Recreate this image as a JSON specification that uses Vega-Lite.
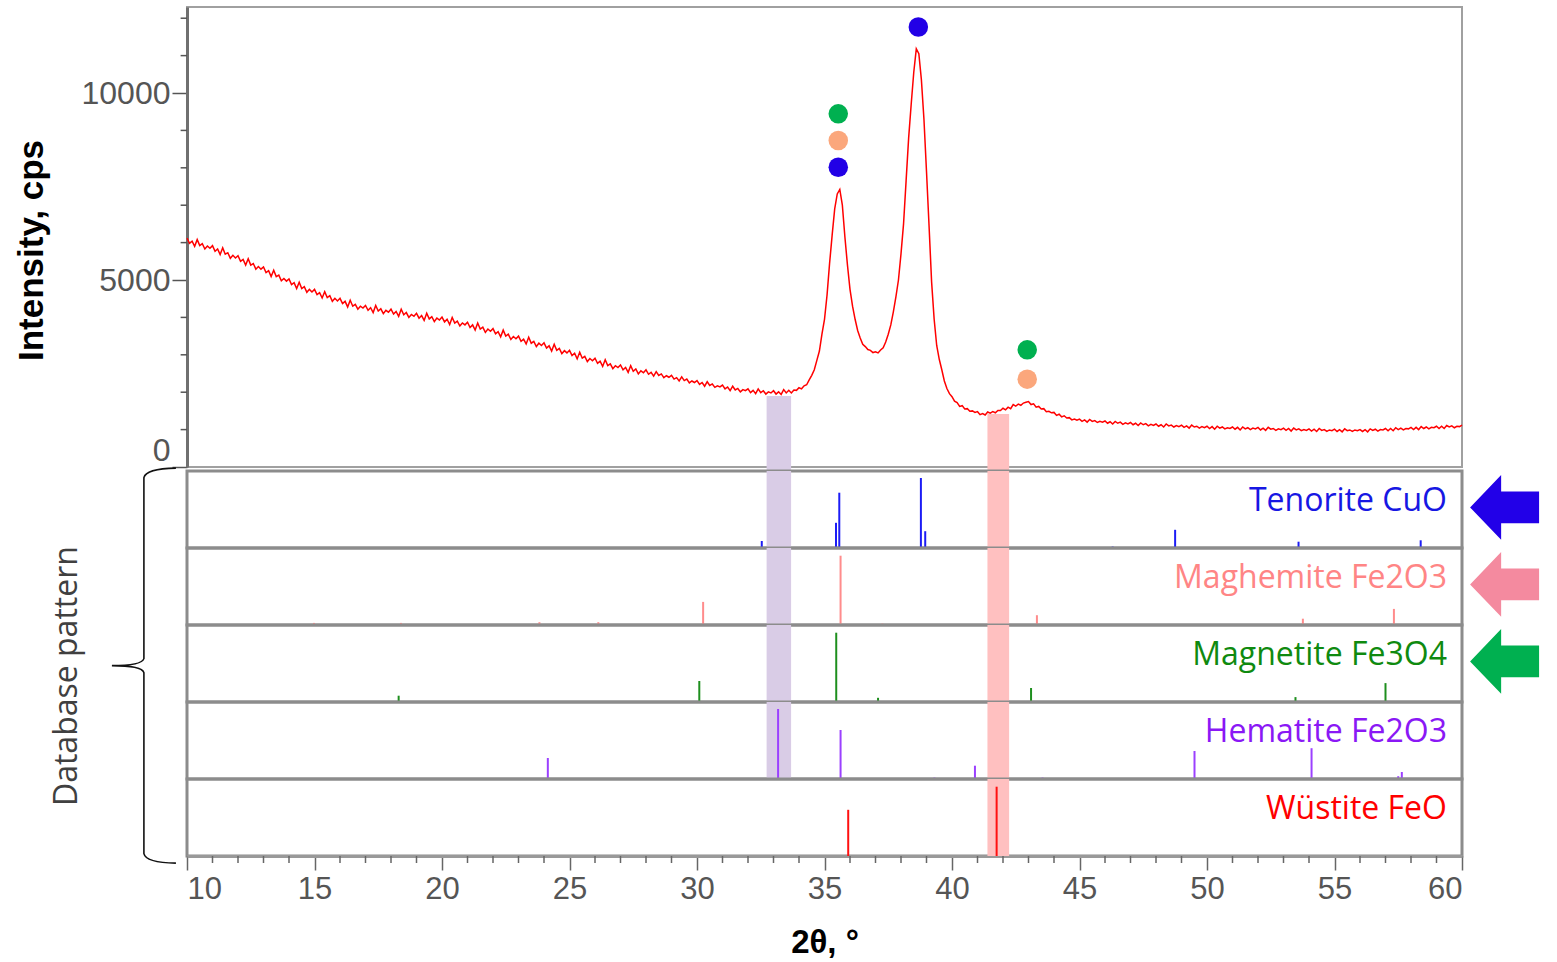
{
"$schema": "https://vega.github.io/schema/vega-lite/v6.json",
"padding": {"left": 13, "top": 6, "right": 5, "bottom": 2},
"spacing": 0,
"bounds": "flush",
"config": {"axis": {"grid": false}, "font": "Liberation Sans"},
"datasets": {
"xrd": [
{"t":10.0,"i":6120},{"t":10.1,"i":5980},{"t":10.2,"i":6040},{"t":10.3,"i":5900},{"t":10.4,"i":6080},{"t":10.5,"i":5920},{"t":10.6,"i":5970},{"t":10.7,"i":5830},{"t":10.8,"i":5910},{"t":10.9,"i":5850},
{"t":11.0,"i":5920},{"t":11.1,"i":5770},{"t":11.2,"i":5830},{"t":11.3,"i":5680},{"t":11.4,"i":5860},{"t":11.5,"i":5690},{"t":11.6,"i":5730},{"t":11.7,"i":5580},{"t":11.8,"i":5660},{"t":11.9,"i":5590},
{"t":12.0,"i":5650},{"t":12.1,"i":5500},{"t":12.2,"i":5550},{"t":12.3,"i":5400},{"t":12.4,"i":5570},{"t":12.5,"i":5400},{"t":12.6,"i":5440},{"t":12.7,"i":5290},{"t":12.8,"i":5360},{"t":12.9,"i":5290},
{"t":13.0,"i":5350},{"t":13.1,"i":5200},{"t":13.2,"i":5250},{"t":13.3,"i":5090},{"t":13.4,"i":5260},{"t":13.5,"i":5090},{"t":13.6,"i":5130},{"t":13.7,"i":4980},{"t":13.8,"i":5040},{"t":13.9,"i":4970},
{"t":14.0,"i":5030},{"t":14.1,"i":4880},{"t":14.2,"i":4930},{"t":14.3,"i":4770},{"t":14.4,"i":4940},{"t":14.5,"i":4770},{"t":14.6,"i":4820},{"t":14.7,"i":4670},{"t":14.8,"i":4750},{"t":14.9,"i":4680},
{"t":15.0,"i":4750},{"t":15.1,"i":4610},{"t":15.2,"i":4660},{"t":15.3,"i":4520},{"t":15.4,"i":4690},{"t":15.5,"i":4530},{"t":15.6,"i":4580},{"t":15.7,"i":4430},{"t":15.8,"i":4510},{"t":15.9,"i":4440},
{"t":16.0,"i":4510},{"t":16.1,"i":4370},{"t":16.2,"i":4430},{"t":16.3,"i":4280},{"t":16.4,"i":4460},{"t":16.5,"i":4300},{"t":16.6,"i":4350},{"t":16.7,"i":4220},{"t":16.8,"i":4300},{"t":16.9,"i":4250},
{"t":17.0,"i":4320},{"t":17.1,"i":4190},{"t":17.2,"i":4260},{"t":17.3,"i":4130},{"t":17.4,"i":4320},{"t":17.5,"i":4170},{"t":17.6,"i":4230},{"t":17.7,"i":4100},{"t":17.8,"i":4190},{"t":17.9,"i":4140},
{"t":18.0,"i":4220},{"t":18.1,"i":4090},{"t":18.2,"i":4160},{"t":18.3,"i":4030},{"t":18.4,"i":4220},{"t":18.5,"i":4070},{"t":18.6,"i":4130},{"t":18.7,"i":4000},{"t":18.8,"i":4080},{"t":18.9,"i":4030},
{"t":19.0,"i":4110},{"t":19.1,"i":3980},{"t":19.2,"i":4050},{"t":19.3,"i":3920},{"t":19.4,"i":4110},{"t":19.5,"i":3960},{"t":19.6,"i":4020},{"t":19.7,"i":3890},{"t":19.8,"i":3980},{"t":19.9,"i":3930},
{"t":20.0,"i":4010},{"t":20.1,"i":3880},{"t":20.2,"i":3950},{"t":20.3,"i":3810},{"t":20.4,"i":4000},{"t":20.5,"i":3850},{"t":20.6,"i":3900},{"t":20.7,"i":3770},{"t":20.8,"i":3850},{"t":20.9,"i":3800},
{"t":21.0,"i":3870},{"t":21.1,"i":3730},{"t":21.2,"i":3800},{"t":21.3,"i":3660},{"t":21.4,"i":3850},{"t":21.5,"i":3690},{"t":21.6,"i":3740},{"t":21.7,"i":3600},{"t":21.8,"i":3690},{"t":21.9,"i":3630},
{"t":22.0,"i":3700},{"t":22.1,"i":3560},{"t":22.2,"i":3620},{"t":22.3,"i":3480},{"t":22.4,"i":3660},{"t":22.5,"i":3500},{"t":22.6,"i":3550},{"t":22.7,"i":3410},{"t":22.8,"i":3490},{"t":22.9,"i":3430},
{"t":23.0,"i":3500},{"t":23.1,"i":3360},{"t":23.2,"i":3420},{"t":23.3,"i":3290},{"t":23.4,"i":3470},{"t":23.5,"i":3310},{"t":23.6,"i":3360},{"t":23.7,"i":3220},{"t":23.8,"i":3310},{"t":23.9,"i":3250},
{"t":24.0,"i":3320},{"t":24.1,"i":3180},{"t":24.2,"i":3240},{"t":24.3,"i":3100},{"t":24.4,"i":3280},{"t":24.5,"i":3120},{"t":24.6,"i":3170},{"t":24.7,"i":3030},{"t":24.8,"i":3110},{"t":24.9,"i":3050},
{"t":25.0,"i":3120},{"t":25.1,"i":2980},{"t":25.2,"i":3040},{"t":25.3,"i":2890},{"t":25.4,"i":3070},{"t":25.5,"i":2910},{"t":25.6,"i":2960},{"t":25.7,"i":2820},{"t":25.8,"i":2900},{"t":25.9,"i":2840},
{"t":26.0,"i":2910},{"t":26.1,"i":2770},{"t":26.2,"i":2830},{"t":26.3,"i":2690},{"t":26.4,"i":2870},{"t":26.5,"i":2710},{"t":26.6,"i":2760},{"t":26.7,"i":2630},{"t":26.8,"i":2710},{"t":26.9,"i":2660},
{"t":27.0,"i":2730},{"t":27.1,"i":2600},{"t":27.2,"i":2660},{"t":27.3,"i":2530},{"t":27.4,"i":2710},{"t":27.5,"i":2560},{"t":27.6,"i":2620},{"t":27.7,"i":2490},{"t":27.8,"i":2570},{"t":27.9,"i":2520},
{"t":28.0,"i":2600},{"t":28.1,"i":2480},{"t":28.2,"i":2530},{"t":28.3,"i":2430},{"t":28.4,"i":2550},{"t":28.5,"i":2450},{"t":28.6,"i":2490},{"t":28.7,"i":2390},{"t":28.8,"i":2440},{"t":28.9,"i":2400},
{"t":29.0,"i":2450},{"t":29.1,"i":2350},{"t":29.2,"i":2390},{"t":29.3,"i":2300},{"t":29.4,"i":2410},{"t":29.5,"i":2310},{"t":29.6,"i":2350},{"t":29.7,"i":2250},{"t":29.8,"i":2300},{"t":29.9,"i":2260},
{"t":30.0,"i":2310},{"t":30.1,"i":2210},{"t":30.2,"i":2260},{"t":30.3,"i":2160},{"t":30.4,"i":2280},{"t":30.5,"i":2180},{"t":30.6,"i":2220},{"t":30.7,"i":2130},{"t":30.8,"i":2170},{"t":30.9,"i":2140},
{"t":31.0,"i":2190},{"t":31.1,"i":2090},{"t":31.2,"i":2140},{"t":31.3,"i":2040},{"t":31.4,"i":2160},{"t":31.5,"i":2060},{"t":31.6,"i":2100},{"t":31.7,"i":2010},{"t":31.8,"i":2070},{"t":31.9,"i":2040},
{"t":32.0,"i":2090},{"t":32.1,"i":1990},{"t":32.2,"i":2050},{"t":32.3,"i":1960},{"t":32.4,"i":2090},{"t":32.5,"i":1990},{"t":32.6,"i":2040},{"t":32.7,"i":1950},{"t":32.8,"i":2010},{"t":32.9,"i":1980},
{"t":33.0,"i":2040},{"t":33.1,"i":1950},{"t":33.2,"i":2010},{"t":33.3,"i":1940},{"t":33.4,"i":2070},{"t":33.5,"i":1980},{"t":33.6,"i":2050},{"t":33.7,"i":1980},{"t":33.8,"i":2060},{"t":33.9,"i":2050},
{"t":34.0,"i":2120},{"t":34.1,"i":2090},{"t":34.2,"i":2170},{"t":34.3,"i":2200},{"t":34.4,"i":2330},{"t":34.5,"i":2450},{"t":34.6,"i":2600},{"t":34.7,"i":2850},{"t":34.8,"i":3100},{"t":34.9,"i":3550},
{"t":35.0,"i":3950},{"t":35.1,"i":4600},{"t":35.2,"i":5450},{"t":35.3,"i":6200},{"t":35.4,"i":6900},{"t":35.5,"i":7300},{"t":35.6,"i":7420},{"t":35.7,"i":7000},{"t":35.8,"i":6150},{"t":35.9,"i":5400},
{"t":36.0,"i":4750},{"t":36.1,"i":4300},{"t":36.2,"i":3950},{"t":36.3,"i":3650},{"t":36.4,"i":3450},{"t":36.5,"i":3280},{"t":36.6,"i":3220},{"t":36.7,"i":3140},{"t":36.8,"i":3120},{"t":36.9,"i":3060},
{"t":37.0,"i":3080},{"t":37.1,"i":3050},{"t":37.2,"i":3130},{"t":37.3,"i":3190},{"t":37.4,"i":3340},{"t":37.5,"i":3550},{"t":37.6,"i":3800},{"t":37.7,"i":4150},{"t":37.8,"i":4550},{"t":37.9,"i":5000},
{"t":38.0,"i":5700},{"t":38.1,"i":6500},{"t":38.2,"i":7650},{"t":38.3,"i":8800},{"t":38.4,"i":9700},{"t":38.5,"i":10550},{"t":38.6,"i":11180},{"t":38.7,"i":11050},{"t":38.8,"i":10350},{"t":38.9,"i":9300},
{"t":39.0,"i":7900},{"t":39.1,"i":6450},{"t":39.2,"i":4950},{"t":39.3,"i":3950},{"t":39.4,"i":3250},{"t":39.5,"i":2880},{"t":39.6,"i":2600},{"t":39.7,"i":2300},{"t":39.8,"i":2100},{"t":39.9,"i":1960},
{"t":40.0,"i":1880},{"t":40.1,"i":1760},{"t":40.2,"i":1720},{"t":40.3,"i":1620},{"t":40.4,"i":1640},{"t":40.5,"i":1550},{"t":40.6,"i":1560},{"t":40.7,"i":1490},{"t":40.8,"i":1500},{"t":40.9,"i":1460},
{"t":41.0,"i":1480},{"t":41.1,"i":1400},{"t":41.2,"i":1430},{"t":41.3,"i":1390},{"t":41.4,"i":1470},{"t":41.5,"i":1440},{"t":41.6,"i":1480},{"t":41.7,"i":1450},{"t":41.8,"i":1510},{"t":41.9,"i":1510},
{"t":42.0,"i":1570},{"t":42.1,"i":1530},{"t":42.2,"i":1600},{"t":42.3,"i":1560},{"t":42.4,"i":1670},{"t":42.5,"i":1630},{"t":42.6,"i":1680},{"t":42.7,"i":1650},{"t":42.8,"i":1710},{"t":42.9,"i":1730},
{"t":43.0,"i":1750},{"t":43.1,"i":1670},{"t":43.2,"i":1690},{"t":43.3,"i":1600},{"t":43.4,"i":1620},{"t":43.5,"i":1550},{"t":43.6,"i":1560},{"t":43.7,"i":1480},{"t":43.8,"i":1490},{"t":43.9,"i":1450},
{"t":44.0,"i":1460},{"t":44.1,"i":1380},{"t":44.2,"i":1410},{"t":44.3,"i":1340},{"t":44.4,"i":1370},{"t":44.5,"i":1310},{"t":44.6,"i":1320},{"t":44.7,"i":1260},{"t":44.8,"i":1280},{"t":44.9,"i":1250},
{"t":45.0,"i":1280},{"t":45.1,"i":1220},{"t":45.2,"i":1260},{"t":45.3,"i":1200},{"t":45.4,"i":1270},{"t":45.5,"i":1220},{"t":45.6,"i":1240},{"t":45.7,"i":1190},{"t":45.8,"i":1220},{"t":45.9,"i":1200},
{"t":46.0,"i":1230},{"t":46.1,"i":1170},{"t":46.2,"i":1210},{"t":46.3,"i":1150},{"t":46.4,"i":1220},{"t":46.5,"i":1170},{"t":46.6,"i":1200},{"t":46.7,"i":1140},{"t":46.8,"i":1180},{"t":46.9,"i":1150},
{"t":47.0,"i":1190},{"t":47.1,"i":1130},{"t":47.2,"i":1170},{"t":47.3,"i":1110},{"t":47.4,"i":1180},{"t":47.5,"i":1130},{"t":47.6,"i":1160},{"t":47.7,"i":1100},{"t":47.8,"i":1140},{"t":47.9,"i":1110},
{"t":48.0,"i":1150},{"t":48.1,"i":1090},{"t":48.2,"i":1130},{"t":48.3,"i":1070},{"t":48.4,"i":1150},{"t":48.5,"i":1100},{"t":48.6,"i":1120},{"t":48.7,"i":1070},{"t":48.8,"i":1110},{"t":48.9,"i":1080},
{"t":49.0,"i":1120},{"t":49.1,"i":1060},{"t":49.2,"i":1100},{"t":49.3,"i":1040},{"t":49.4,"i":1120},{"t":49.5,"i":1070},{"t":49.6,"i":1090},{"t":49.7,"i":1040},{"t":49.8,"i":1080},{"t":49.9,"i":1050},
{"t":50.0,"i":1090},{"t":50.1,"i":1030},{"t":50.2,"i":1080},{"t":50.3,"i":1010},{"t":50.4,"i":1090},{"t":50.5,"i":1040},{"t":50.6,"i":1070},{"t":50.7,"i":1020},{"t":50.8,"i":1050},{"t":50.9,"i":1030},
{"t":51.0,"i":1070},{"t":51.1,"i":1010},{"t":51.2,"i":1060},{"t":51.3,"i":990},{"t":51.4,"i":1070},{"t":51.5,"i":1020},{"t":51.6,"i":1050},{"t":51.7,"i":1000},{"t":51.8,"i":1040},{"t":51.9,"i":1020},
{"t":52.0,"i":1060},{"t":52.1,"i":990},{"t":52.2,"i":1040},{"t":52.3,"i":980},{"t":52.4,"i":1060},{"t":52.5,"i":1010},{"t":52.6,"i":1030},{"t":52.7,"i":980},{"t":52.8,"i":1020},{"t":52.9,"i":1000},
{"t":53.0,"i":1040},{"t":53.1,"i":980},{"t":53.2,"i":1030},{"t":53.3,"i":960},{"t":53.4,"i":1040},{"t":53.5,"i":990},{"t":53.6,"i":1020},{"t":53.7,"i":970},{"t":53.8,"i":1000},{"t":53.9,"i":980},
{"t":54.0,"i":1020},{"t":54.1,"i":960},{"t":54.2,"i":1010},{"t":54.3,"i":950},{"t":54.4,"i":1030},{"t":54.5,"i":980},{"t":54.6,"i":1000},{"t":54.7,"i":950},{"t":54.8,"i":990},{"t":54.9,"i":970},
{"t":55.0,"i":1010},{"t":55.1,"i":950},{"t":55.2,"i":1000},{"t":55.3,"i":940},{"t":55.4,"i":1020},{"t":55.5,"i":970},{"t":55.6,"i":990},{"t":55.7,"i":950},{"t":55.8,"i":990},{"t":55.9,"i":970},
{"t":56.0,"i":1000},{"t":56.1,"i":950},{"t":56.2,"i":1000},{"t":56.3,"i":940},{"t":56.4,"i":1020},{"t":56.5,"i":980},{"t":56.6,"i":1010},{"t":56.7,"i":960},{"t":56.8,"i":1000},{"t":56.9,"i":990},
{"t":57.0,"i":1030},{"t":57.1,"i":970},{"t":57.2,"i":1030},{"t":57.3,"i":970},{"t":57.4,"i":1050},{"t":57.5,"i":1000},{"t":57.6,"i":1040},{"t":57.7,"i":990},{"t":57.8,"i":1030},{"t":57.9,"i":1020},
{"t":58.0,"i":1060},{"t":58.1,"i":1000},{"t":58.2,"i":1060},{"t":58.3,"i":1000},{"t":58.4,"i":1080},{"t":58.5,"i":1030},{"t":58.6,"i":1070},{"t":58.7,"i":1020},{"t":58.8,"i":1060},{"t":58.9,"i":1050},
{"t":59.0,"i":1090},{"t":59.1,"i":1030},{"t":59.2,"i":1090},{"t":59.3,"i":1030},{"t":59.4,"i":1110},{"t":59.5,"i":1070},{"t":59.6,"i":1100},{"t":59.7,"i":1050},{"t":59.8,"i":1090},{"t":59.9,"i":1080},
{"t":60.0,"i":1120}
],
"markers": [
{"phase":"Magnetite Fe3O4","t":35.54,"i":9445},
{"phase":"Maghemite Fe2O3","t":35.54,"i":8730},
{"phase":"Tenorite CuO","t":35.54,"i":8015},
{"phase":"Tenorite CuO","t":38.68,"i":11765},
{"phase":"Magnetite Fe3O4","t":42.95,"i":3133},
{"phase":"Maghemite Fe2O3","t":42.95,"i":2349}
],
"sticks": [
{"phase":"Tenorite CuO","t":32.54,"rel":10},{"phase":"Tenorite CuO","t":35.45,"rel":36},{"phase":"Tenorite CuO","t":35.58,"rel":79},{"phase":"Tenorite CuO","t":38.78,"rel":100},{"phase":"Tenorite CuO","t":38.95,"rel":24},{"phase":"Tenorite CuO","t":46.3,"rel":2},{"phase":"Tenorite CuO","t":48.75,"rel":26},{"phase":"Tenorite CuO","t":53.59,"rel":9},{"phase":"Tenorite CuO","t":58.38,"rel":11},
{"phase":"Maghemite Fe2O3","t":14.98,"rel":3},{"phase":"Maghemite Fe2O3","t":18.39,"rel":3},{"phase":"Maghemite Fe2O3","t":23.82,"rel":4},{"phase":"Maghemite Fe2O3","t":26.13,"rel":4},{"phase":"Maghemite Fe2O3","t":30.24,"rel":33},{"phase":"Maghemite Fe2O3","t":35.63,"rel":99},{"phase":"Maghemite Fe2O3","t":37.27,"rel":2},{"phase":"Maghemite Fe2O3","t":43.33,"rel":14},{"phase":"Maghemite Fe2O3","t":53.76,"rel":9},{"phase":"Maghemite Fe2O3","t":57.33,"rel":23},
{"phase":"Magnetite Fe3O4","t":18.30,"rel":9},{"phase":"Magnetite Fe3O4","t":30.09,"rel":30},{"phase":"Magnetite Fe3O4","t":35.46,"rel":99},{"phase":"Magnetite Fe3O4","t":37.1,"rel":6},{"phase":"Magnetite Fe3O4","t":43.1,"rel":20},{"phase":"Magnetite Fe3O4","t":53.47,"rel":7},{"phase":"Magnetite Fe3O4","t":57.0,"rel":27},
{"phase":"Hematite Fe2O3","t":24.15,"rel":30},{"phase":"Hematite Fe2O3","t":33.18,"rel":100},{"phase":"Hematite Fe2O3","t":35.63,"rel":70},{"phase":"Hematite Fe2O3","t":39.31,"rel":2},{"phase":"Hematite Fe2O3","t":40.9,"rel":19},{"phase":"Hematite Fe2O3","t":43.55,"rel":2},{"phase":"Hematite Fe2O3","t":49.51,"rel":40},{"phase":"Hematite Fe2O3","t":54.1,"rel":44},{"phase":"Hematite Fe2O3","t":57.5,"rel":4},{"phase":"Hematite Fe2O3","t":57.64,"rel":10},
{"phase":"Wüstite FeO","t":35.93,"rel":66},{"phase":"Wüstite FeO","t":41.75,"rel":99}
],
"bands": [
{"band":"Hematite Fe2O3","lo":32.73,"hi":33.69,"imax":1900},
{"band":"Wüstite FeO","lo":41.39,"hi":42.24,"imax":1420}
],
"phases": [
{"phase":"Tenorite CuO"},{"phase":"Maghemite Fe2O3"},{"phase":"Magnetite Fe3O4"},{"phase":"Hematite Fe2O3"},{"phase":"Wüstite FeO"}
]
},
"vconcat": [
{
"width": 1275, "height": 460,
"view": {"stroke": "#a0a0a0", "strokeWidth": 2},
"layer": [
{"data": {"name": "bands"}, "mark": {"type": "rect"},
 "encoding": {
  "x": {"field": "lo", "type": "quantitative", "scale": {"domain": [10, 60], "nice": false, "zero": false}, "axis": null},
  "x2": {"field": "hi"},
  "y": {"field": "imax", "type": "quantitative", "scale": {"domain": [0, 12300], "nice": false},
   "axis": {"title": "Intensity, cps", "values": [0, 5000, 10000], "format": "d", "tickSize": 15,
    "labelFont": "Liberation Sans", "labelFontSize": 32, "labelColor": "#555555", "labelPadding": 2, "labelFlush": true, "labelOverlap": false,
    "tickColor": "#555555", "tickWidth": 1.5, "domainColor": "#707070", "domainWidth": 3,
    "titleFont": "Liberation Sans", "titleFontSize": 35, "titleFontWeight": "bold", "titleColor": "#000000", "titlePadding": 32, "titleY": 243}},
  "y2": {"datum": 0, "type": "quantitative"},
  "color": {"field": "band", "type": "nominal", "scale": {"domain": ["Hematite Fe2O3", "Wüstite FeO"], "range": ["#D9CCE6", "#FFC0C0"]}, "legend": null}}},
{"data": {"values": [{"v":1000},{"v":2000},{"v":3000},{"v":4000},{"v":6000},{"v":7000},{"v":8000},{"v":9000},{"v":11000},{"v":12000}]},
 "mark": {"type": "rule", "color": "#555555", "strokeWidth": 1.5},
 "encoding": {
  "x": {"datum": 10, "type": "quantitative", "scale": {"domain": [10, 60], "nice": false, "zero": false}, "axis": null},
  "x2": {"datum": 9.75, "type": "quantitative"},
  "y": {"field": "v", "type": "quantitative", "scale": {"domain": [0, 12300], "nice": false},
   "axis": {"title": "Intensity, cps", "values": [0, 5000, 10000], "format": "d", "tickSize": 15,
    "labelFont": "Liberation Sans", "labelFontSize": 32, "labelColor": "#555555", "labelPadding": 2, "labelFlush": true, "labelOverlap": false,
    "tickColor": "#555555", "tickWidth": 1.5, "domainColor": "#707070", "domainWidth": 3,
    "titleFont": "Liberation Sans", "titleFontSize": 35, "titleFontWeight": "bold", "titleColor": "#000000", "titlePadding": 32, "titleY": 243}}}},
{"data": {"name": "xrd"}, "mark": {"type": "line", "color": "#FF0000", "strokeWidth": 1.5},
 "encoding": {
  "x": {"field": "t", "type": "quantitative", "scale": {"domain": [10, 60], "nice": false, "zero": false}, "axis": null},
  "y": {"field": "i", "type": "quantitative", "scale": {"domain": [0, 12300], "nice": false},
   "axis": {"title": "Intensity, cps", "values": [0, 5000, 10000], "format": "d", "tickSize": 15,
    "labelFont": "Liberation Sans", "labelFontSize": 32, "labelColor": "#555555", "labelPadding": 2, "labelFlush": true, "labelOverlap": false,
    "tickColor": "#555555", "tickWidth": 1.5, "domainColor": "#707070", "domainWidth": 3,
    "titleFont": "Liberation Sans", "titleFontSize": 35, "titleFontWeight": "bold", "titleColor": "#000000", "titlePadding": 32, "titleY": 243}}}},
{"data": {"name": "markers"}, "mark": {"type": "point", "filled": true, "shape": "circle", "size": 380, "opacity": 1},
 "encoding": {
  "x": {"field": "t", "type": "quantitative", "scale": {"domain": [10, 60], "nice": false, "zero": false}, "axis": null},
  "y": {"field": "i", "type": "quantitative", "scale": {"domain": [0, 12300], "nice": false},
   "axis": {"title": "Intensity, cps", "values": [0, 5000, 10000], "format": "d", "tickSize": 15,
    "labelFont": "Liberation Sans", "labelFontSize": 32, "labelColor": "#555555", "labelPadding": 2, "labelFlush": true, "labelOverlap": false,
    "tickColor": "#555555", "tickWidth": 1.5, "domainColor": "#707070", "domainWidth": 3,
    "titleFont": "Liberation Sans", "titleFontSize": 35, "titleFontWeight": "bold", "titleColor": "#000000", "titlePadding": 32, "titleY": 243}},
  "color": {"field": "phase", "type": "nominal", "scale": {"domain": ["Tenorite CuO", "Maghemite Fe2O3", "Magnetite Fe3O4"], "range": ["#2200E6", "#FBA77C", "#00B050"]}, "legend": null}}}
],
"resolve": {"scale": {"color": "independent"}}
},
{
"width": 1275, "height": 4,
"view": {"stroke": null},
"data": {"name": "bands"}, "mark": {"type": "rect"},
"encoding": {
 "x": {"field": "lo", "type": "quantitative", "scale": {"domain": [10, 60], "nice": false, "zero": false}, "axis": null},
 "x2": {"field": "hi"},
 "color": {"field": "band", "type": "nominal", "scale": {"domain": ["Hematite Fe2O3", "Wüstite FeO"], "range": ["#D9CCE6", "#FFC0C0"]}, "legend": null}}
},
{
"width": 1275, "height": 77,
"view": {"stroke": "#8c8c8c", "strokeWidth": 3},
"layer": [
{"data": {"name": "bands"}, "mark": {"type": "rect"},
 "encoding": {"x": {"field": "lo", "type": "quantitative", "scale": {"domain": [10, 60], "nice": false, "zero": false}, "axis": null}, "x2": {"field": "hi"},
  "color": {"field": "band", "type": "nominal", "scale": {"domain": ["Hematite Fe2O3", "Wüstite FeO"], "range": ["#D9CCE6", "#FFC0C0"]}, "legend": null}}},
{"data": {"name": "sticks"}, "transform": [{"filter": "datum.phase === 'Tenorite CuO'"}], "mark": {"type": "rule", "color": "#1c1cf5", "strokeWidth": 2},
 "encoding": {"x": {"field": "t", "type": "quantitative", "scale": {"domain": [10, 60], "nice": false, "zero": false}, "axis": null},
  "y": {"field": "rel", "type": "quantitative", "scale": {"domain": [0, 110], "nice": false}, "axis": null}, "y2": {"datum": 0, "type": "quantitative"}}},
{"data": {"name": "phases"}, "transform": [{"filter": "datum.phase === 'Tenorite CuO'"}], "mark": {"type": "text", "align": "right", "baseline": "middle", "font": "Open Sans", "fontSize": 32, "color": "#1717E3"},
 "encoding": {"x": {"datum": 59.41, "type": "quantitative", "scale": {"domain": [10, 60], "nice": false, "zero": false}, "axis": null},
  "y": {"datum": 67, "type": "quantitative", "scale": {"domain": [0, 110], "nice": false}, "axis": null}, "text": {"field": "phase", "type": "nominal"}}},
{"data": {"name": "phases"}, "transform": [{"filter": "datum.phase === 'Tenorite CuO'"}], "mark": {"type": "point", "shape": "M -1 0 L -0.1 -0.94 L -0.1 -0.46 L 1 -0.46 L 1 0.46 L -0.1 0.46 L -0.1 0.94 Z", "size": 4761, "filled": true, "opacity": 1, "color": "#2200E8", "strokeWidth": 0},
 "encoding": {"x": {"datum": 61.67, "type": "quantitative", "scale": {"domain": [10, 60], "nice": false, "zero": false}, "axis": null},
  "y": {"datum": 58, "type": "quantitative", "scale": {"domain": [0, 110], "nice": false}, "axis": null}}}
]
},
{
"width": 1275, "height": 77,
"view": {"stroke": "#8c8c8c", "strokeWidth": 3},
"layer": [
{"data": {"name": "bands"}, "mark": {"type": "rect"},
 "encoding": {"x": {"field": "lo", "type": "quantitative", "scale": {"domain": [10, 60], "nice": false, "zero": false}, "axis": null}, "x2": {"field": "hi"},
  "color": {"field": "band", "type": "nominal", "scale": {"domain": ["Hematite Fe2O3", "Wüstite FeO"], "range": ["#D9CCE6", "#FFC0C0"]}, "legend": null}}},
{"data": {"name": "sticks"}, "transform": [{"filter": "datum.phase === 'Maghemite Fe2O3'"}], "mark": {"type": "rule", "color": "#FF8C8C", "strokeWidth": 2},
 "encoding": {"x": {"field": "t", "type": "quantitative", "scale": {"domain": [10, 60], "nice": false, "zero": false}, "axis": null},
  "y": {"field": "rel", "type": "quantitative", "scale": {"domain": [0, 110], "nice": false}, "axis": null}, "y2": {"datum": 0, "type": "quantitative"}}},
{"data": {"name": "phases"}, "transform": [{"filter": "datum.phase === 'Maghemite Fe2O3'"}], "mark": {"type": "text", "align": "right", "baseline": "middle", "font": "Open Sans", "fontSize": 32, "color": "#FF8585"},
 "encoding": {"x": {"datum": 59.41, "type": "quantitative", "scale": {"domain": [10, 60], "nice": false, "zero": false}, "axis": null},
  "y": {"datum": 67, "type": "quantitative", "scale": {"domain": [0, 110], "nice": false}, "axis": null}, "text": {"field": "phase", "type": "nominal"}}},
{"data": {"name": "phases"}, "transform": [{"filter": "datum.phase === 'Maghemite Fe2O3'"}], "mark": {"type": "point", "shape": "M -1 0 L -0.1 -0.94 L -0.1 -0.46 L 1 -0.46 L 1 0.46 L -0.1 0.46 L -0.1 0.94 Z", "size": 4761, "filled": true, "opacity": 1, "color": "#F48A9F", "strokeWidth": 0},
 "encoding": {"x": {"datum": 61.67, "type": "quantitative", "scale": {"domain": [10, 60], "nice": false, "zero": false}, "axis": null},
  "y": {"datum": 58, "type": "quantitative", "scale": {"domain": [0, 110], "nice": false}, "axis": null}}}
]
},
{
"width": 1275, "height": 77,
"view": {"stroke": "#8c8c8c", "strokeWidth": 3},
"layer": [
{"data": {"name": "bands"}, "mark": {"type": "rect"},
 "encoding": {"x": {"field": "lo", "type": "quantitative", "scale": {"domain": [10, 60], "nice": false, "zero": false}, "axis": null}, "x2": {"field": "hi"},
  "color": {"field": "band", "type": "nominal", "scale": {"domain": ["Hematite Fe2O3", "Wüstite FeO"], "range": ["#D9CCE6", "#FFC0C0"]}, "legend": null}}},
{"data": {"name": "sticks"}, "transform": [{"filter": "datum.phase === 'Magnetite Fe3O4'"}], "mark": {"type": "rule", "color": "#1E8F1E", "strokeWidth": 2},
 "encoding": {"x": {"field": "t", "type": "quantitative", "scale": {"domain": [10, 60], "nice": false, "zero": false}, "axis": null},
  "y": {"field": "rel", "type": "quantitative", "scale": {"domain": [0, 110], "nice": false}, "axis": null}, "y2": {"datum": 0, "type": "quantitative"}}},
{"data": {"name": "phases"}, "transform": [{"filter": "datum.phase === 'Magnetite Fe3O4'"}], "mark": {"type": "text", "align": "right", "baseline": "middle", "font": "Open Sans", "fontSize": 32, "color": "#0F8A0F"},
 "encoding": {"x": {"datum": 59.41, "type": "quantitative", "scale": {"domain": [10, 60], "nice": false, "zero": false}, "axis": null},
  "y": {"datum": 67, "type": "quantitative", "scale": {"domain": [0, 110], "nice": false}, "axis": null}, "text": {"field": "phase", "type": "nominal"}}},
{"data": {"name": "phases"}, "transform": [{"filter": "datum.phase === 'Magnetite Fe3O4'"}], "mark": {"type": "point", "shape": "M -1 0 L -0.1 -0.94 L -0.1 -0.46 L 1 -0.46 L 1 0.46 L -0.1 0.46 L -0.1 0.94 Z", "size": 4761, "filled": true, "opacity": 1, "color": "#00B050", "strokeWidth": 0},
 "encoding": {"x": {"datum": 61.67, "type": "quantitative", "scale": {"domain": [10, 60], "nice": false, "zero": false}, "axis": null},
  "y": {"datum": 58, "type": "quantitative", "scale": {"domain": [0, 110], "nice": false}, "axis": null}}},
{"data": {"values": [{"label": "Database pattern"}]}, "mark": {"type": "point", "shape": "M 0.16 -0.9875 Q 0.01 -0.985 0 -0.94 L 0 -0.035 Q -0.01 0 -0.16 0 Q -0.01 0 0 0.035 L 0 0.94 Q 0.01 0.985 0.16 0.9875", "size": 160000, "filled": false, "color": "#111111", "strokeWidth": 1.6, "opacity": 1},
 "encoding": {"x": {"datum": 8.31, "type": "quantitative", "scale": {"domain": [10, 60], "nice": false, "zero": false}, "axis": null},
  "y": {"datum": 52, "type": "quantitative", "scale": {"domain": [0, 110], "nice": false}, "axis": null}}},
{"data": {"values": [{"label": "Database pattern"}]}, "mark": {"type": "text", "angle": 270, "align": "center", "baseline": "middle", "font": "Open Sans", "fontSize": 32, "color": "#404040"},
 "encoding": {"x": {"datum": 5.29, "type": "quantitative", "scale": {"domain": [10, 60], "nice": false, "zero": false}, "axis": null},
  "y": {"datum": 37, "type": "quantitative", "scale": {"domain": [0, 110], "nice": false}, "axis": null}, "text": {"field": "label", "type": "nominal"}}}
]
},
{
"width": 1275, "height": 77,
"view": {"stroke": "#8c8c8c", "strokeWidth": 3},
"layer": [
{"data": {"name": "bands"}, "mark": {"type": "rect"},
 "encoding": {"x": {"field": "lo", "type": "quantitative", "scale": {"domain": [10, 60], "nice": false, "zero": false}, "axis": null}, "x2": {"field": "hi"},
  "color": {"field": "band", "type": "nominal", "scale": {"domain": ["Hematite Fe2O3", "Wüstite FeO"], "range": ["#D9CCE6", "#FFC0C0"]}, "legend": null}}},
{"data": {"name": "sticks"}, "transform": [{"filter": "datum.phase === 'Hematite Fe2O3'"}], "mark": {"type": "rule", "color": "#9B40FF", "strokeWidth": 2},
 "encoding": {"x": {"field": "t", "type": "quantitative", "scale": {"domain": [10, 60], "nice": false, "zero": false}, "axis": null},
  "y": {"field": "rel", "type": "quantitative", "scale": {"domain": [0, 110], "nice": false}, "axis": null}, "y2": {"datum": 0, "type": "quantitative"}}},
{"data": {"name": "phases"}, "transform": [{"filter": "datum.phase === 'Hematite Fe2O3'"}], "mark": {"type": "text", "align": "right", "baseline": "middle", "font": "Open Sans", "fontSize": 32, "color": "#8A18F5"},
 "encoding": {"x": {"datum": 59.41, "type": "quantitative", "scale": {"domain": [10, 60], "nice": false, "zero": false}, "axis": null},
  "y": {"datum": 67, "type": "quantitative", "scale": {"domain": [0, 110], "nice": false}, "axis": null}, "text": {"field": "phase", "type": "nominal"}}}
]
},
{
"width": 1275, "height": 77,
"view": {"stroke": "#8c8c8c", "strokeWidth": 3},
"layer": [
{"data": {"name": "bands"}, "transform": [{"filter": "datum.band === 'Wüstite FeO'"}], "mark": {"type": "rect"},
 "encoding": {"x": {"field": "lo", "type": "quantitative", "scale": {"domain": [10, 60], "nice": false, "zero": false},
   "axis": {"title": "2θ, °", "values": [10,15,20,25,30,35,40,45,50,55,60], "tickSize": 14,
    "labelFont": "Liberation Sans", "labelFontSize": 31, "labelColor": "#555555", "labelPadding": 4, "labelFlush": true, "labelOverlap": false,
    "tickColor": "#666666", "tickWidth": 1.5, "domainColor": "#999999", "domainWidth": 3,
    "titleFont": "Liberation Sans", "titleFontSize": 33, "titleFontWeight": "bold", "titleColor": "#000000", "titlePadding": 22}},
  "x2": {"field": "hi"},
  "color": {"field": "band", "type": "nominal", "scale": {"domain": ["Hematite Fe2O3", "Wüstite FeO"], "range": ["#D9CCE6", "#FFC0C0"]}, "legend": null}}},
{"data": {"values": [{"v":11},{"v":12},{"v":13},{"v":14},{"v":16},{"v":17},{"v":18},{"v":19},{"v":21},{"v":22},{"v":23},{"v":24},{"v":26},{"v":27},{"v":28},{"v":29},{"v":31},{"v":32},{"v":33},{"v":34},{"v":36},{"v":37},{"v":38},{"v":39},{"v":41},{"v":42},{"v":43},{"v":44},{"v":46},{"v":47},{"v":48},{"v":49},{"v":51},{"v":52},{"v":53},{"v":54},{"v":56},{"v":57},{"v":58},{"v":59}]},
 "mark": {"type": "rule", "color": "#666666", "strokeWidth": 1.5},
 "encoding": {"x": {"field": "v", "type": "quantitative", "scale": {"domain": [10, 60], "nice": false, "zero": false},
   "axis": {"title": "2θ, °", "values": [10,15,20,25,30,35,40,45,50,55,60], "tickSize": 14,
    "labelFont": "Liberation Sans", "labelFontSize": 31, "labelColor": "#555555", "labelPadding": 4, "labelFlush": true, "labelOverlap": false,
    "tickColor": "#666666", "tickWidth": 1.5, "domainColor": "#999999", "domainWidth": 3,
    "titleFont": "Liberation Sans", "titleFontSize": 33, "titleFontWeight": "bold", "titleColor": "#000000", "titlePadding": 22}},
  "y": {"datum": 0, "type": "quantitative", "scale": {"domain": [0, 110], "nice": false}, "axis": null},
  "y2": {"datum": -10, "type": "quantitative"}}},
{"data": {"name": "sticks"}, "transform": [{"filter": "datum.phase === 'Wüstite FeO'"}], "mark": {"type": "rule", "color": "#FF1010", "strokeWidth": 2},
 "encoding": {"x": {"field": "t", "type": "quantitative", "scale": {"domain": [10, 60], "nice": false, "zero": false},
   "axis": {"title": "2θ, °", "values": [10,15,20,25,30,35,40,45,50,55,60], "tickSize": 14,
    "labelFont": "Liberation Sans", "labelFontSize": 31, "labelColor": "#555555", "labelPadding": 4, "labelFlush": true, "labelOverlap": false,
    "tickColor": "#666666", "tickWidth": 1.5, "domainColor": "#999999", "domainWidth": 3,
    "titleFont": "Liberation Sans", "titleFontSize": 33, "titleFontWeight": "bold", "titleColor": "#000000", "titlePadding": 22}},
  "y": {"field": "rel", "type": "quantitative", "scale": {"domain": [0, 110], "nice": false}, "axis": null}, "y2": {"datum": 0, "type": "quantitative"}}},
{"data": {"name": "phases"}, "transform": [{"filter": "datum.phase === 'Wüstite FeO'"}], "mark": {"type": "text", "align": "right", "baseline": "middle", "font": "Open Sans", "fontSize": 32, "color": "#FF0000"},
 "encoding": {"x": {"datum": 59.41, "type": "quantitative", "scale": {"domain": [10, 60], "nice": false, "zero": false},
   "axis": {"title": "2θ, °", "values": [10,15,20,25,30,35,40,45,50,55,60], "tickSize": 14,
    "labelFont": "Liberation Sans", "labelFontSize": 31, "labelColor": "#555555", "labelPadding": 4, "labelFlush": true, "labelOverlap": false,
    "tickColor": "#666666", "tickWidth": 1.5, "domainColor": "#999999", "domainWidth": 3,
    "titleFont": "Liberation Sans", "titleFontSize": 33, "titleFontWeight": "bold", "titleColor": "#000000", "titlePadding": 22}},
  "y": {"datum": 67, "type": "quantitative", "scale": {"domain": [0, 110], "nice": false}, "axis": null}, "text": {"field": "phase", "type": "nominal"}}}
]
}
]
}
